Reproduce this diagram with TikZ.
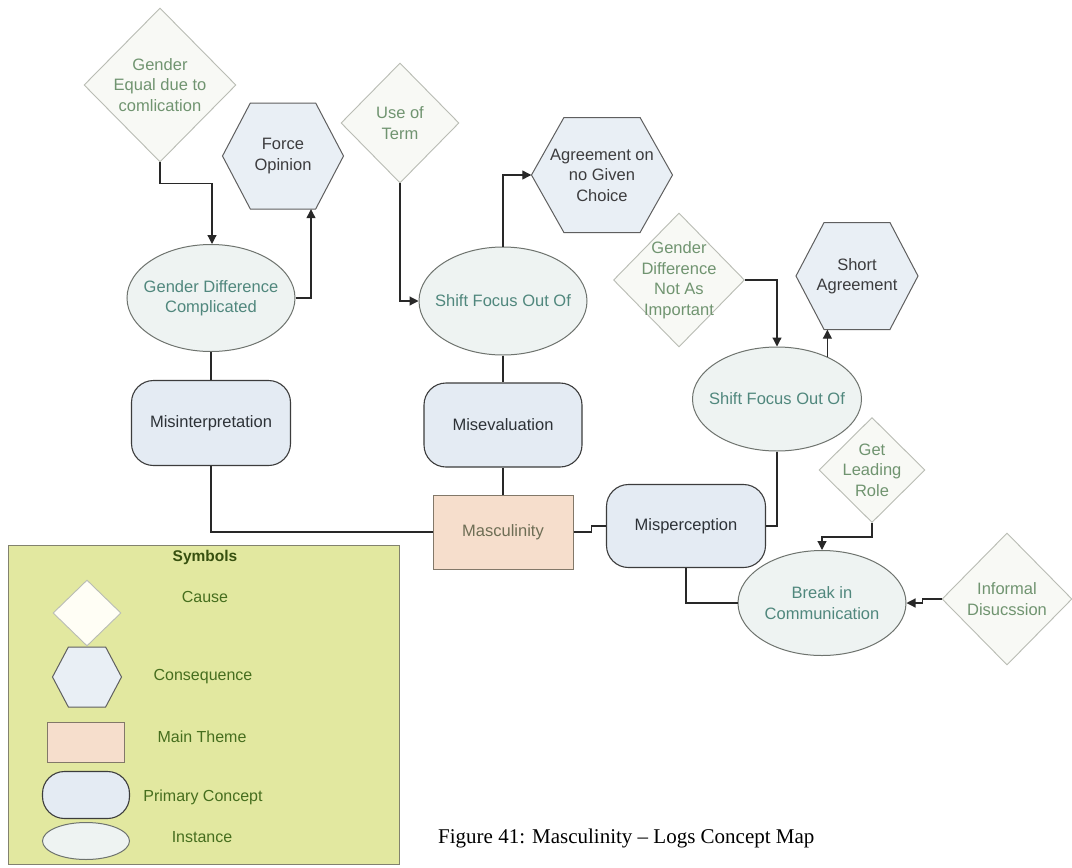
\documentclass[tikz,border=0pt]{standalone}
\usepackage{fontspec}
\setmainfont{Liberation Serif}
\setsansfont{Liberation Sans}
\usetikzlibrary{shapes.geometric,arrows.meta,calc}
\definecolor{diaedge}{RGB}{185,188,180}
\definecolor{diafill}{RGB}{248,249,245}
\definecolor{ctext}{RGB}{112,148,112}
\definecolor{hexedge}{RGB}{95,95,95}
\definecolor{hexfill}{RGB}{233,239,245}
\definecolor{htext}{RGB}{60,60,62}
\definecolor{elledge}{RGB}{110,115,110}
\definecolor{ellfill}{RGB}{238,243,242}
\definecolor{etext}{RGB}{80,135,125}
\definecolor{primedge}{RGB}{60,60,60}
\definecolor{primfill}{RGB}{228,235,243}
\definecolor{ptext}{RGB}{45,50,55}
\definecolor{themeedge}{RGB}{130,120,105}
\definecolor{themefill}{RGB}{246,222,204}
\definecolor{thtext}{RGB}{110,110,85}
\definecolor{legfill}{RGB}{226,232,160}
\definecolor{legedge}{RGB}{130,130,110}
\definecolor{legtext}{RGB}{70,110,30}
\definecolor{symtext}{RGB}{55,80,15}
\definecolor{linkc}{RGB}{40,40,40}
\tikzset{
  base/.style={font=\sffamily\fontsize{16.5}{20.5}\selectfont, align=center, inner sep=0pt},
  cause/.style={diamond, aspect=1, inner sep=0pt, draw=diaedge, fill=diafill, line width=0.9pt},
  ctxt/.style={base, text=ctext},
  hexpath/.style={draw=hexedge, fill=hexfill, line width=1pt},
  instance/.style={ellipse, inner sep=0pt, draw=elledge, fill=ellfill, line width=1pt},
  etxt/.style={base, text=etext},
  primary/.style={base, rectangle, rounded corners=22pt, draw=primedge, fill=primfill, text=ptext, line width=1.1pt},
  theme/.style={base, rectangle, draw=themeedge, fill=themefill, text=thtext, line width=1pt},
  link/.style={draw=linkc, line width=1.2pt},
  arr/.style={link, -{Triangle[length=9pt,width=9pt]}},
  legtxt/.style={font=\sffamily\fontsize{16}{19}\selectfont, text=legtext, inner sep=0pt},
}
% hexagon: name, x, y, w, h, text
\newcommand\hexnode[6]{%
  \path[hexpath] ({#2-#4/2},#3) -- ({#2-0.27*#4},{#3-#5/2}) -- ({#2+0.27*#4},{#3-#5/2})
    -- ({#2+#4/2},#3) -- ({#2+0.27*#4},{#3+#5/2}) -- ({#2-0.27*#4},{#3+#5/2}) -- cycle;
  \node[base, text=htext, minimum width=#4pt, minimum height=#5pt] (#1) at (#2,#3) {#6};}
\begin{document}
\begin{tikzpicture}[x=1pt,y=-1pt]
\useasboundingbox[fill=white] (0,0) rectangle (1072,868);

% causes
\node[cause, minimum width=152pt, minimum height=154pt] (ge) at (160,85) {};
\node[ctxt] (ge-t) at (ge) {Gender\\Equal due to\\comlication};
\node[cause, minimum width=118pt, minimum height=120pt] (ut) at (400,123) {};
\node[ctxt] (ut-t) at (ut) {Use of\\Term};
\node[cause, minimum width=131pt, minimum height=134pt] (gd) at (679,280) {};
\node[ctxt] (gd-t) at (gd) {Gender\\Difference\\Not As\\Important};
\node[cause, minimum width=106pt, minimum height=105pt] (glr) at (872,470) {};
\node[ctxt] (glr-t) at (glr) {Get\\Leading\\Role};
\node[cause, minimum width=130pt, minimum height=132pt] (id) at (1007,599) {};
\node[ctxt] (id-t) at (id) {Informal\\Disucssion};

% consequences
\hexnode{fo}{283}{156}{121}{106}{Force\\Opinion}
\hexnode{ag}{602}{175}{141}{115}{Agreement on\\no Given\\Choice}
\hexnode{sa}{857}{276}{122}{107}{Short\\Agreement}

% instances
\node[instance, minimum width=168pt, minimum height=107pt] (gdc) at (211,298) {};
\node[etxt] (gdc-t) at (gdc) {Gender Difference\\Complicated};
\node[instance, minimum width=168pt, minimum height=108pt] (sf1) at (503,301) {};
\node[etxt] (sf1-t) at (sf1) {Shift Focus Out Of};
\node[instance, minimum width=169pt, minimum height=104pt] (sf2) at (777,399) {};
\node[etxt] (sf2-t) at (sf2) {Shift Focus Out Of};
\node[instance, minimum width=168pt, minimum height=105pt] (bc) at (822,603) {};
\node[etxt] (bc-t) at (bc) {Break in\\Communication};

% primary concepts
\node[primary, minimum width=159pt, minimum height=85pt] (mi) at (211,423) {Misinterpretation};
\node[primary, minimum width=158pt, minimum height=84pt] (me) at (503,425) {Misevaluation};
\node[primary, minimum width=159pt, minimum height=83pt] (mp) at (686,526) {Misperception};

% main theme
\node[theme, minimum width=140pt, minimum height=74pt] (ma) at (503,532) {Masculinity};

% connectors
\draw[arr] (ge.south) -- ++(0,21) -| ([xshift=1pt]gdc.north);
\draw[arr] (gdc.east) -| ([xshift=28pt]fo.south);
\draw[arr] (ut.south) |- (sf1.west);
\draw[arr] (sf1.north) |- (ag.west);
\draw[link] (gdc.south) -- (mi.north);
\draw[link] (sf1.south) -- (me.north);
\draw[link] (me.south) -- (ma.north);
\draw[link] (mi.south) |- (ma.west);
\draw[link] (ma.east) -- ++(18,0) |- (mp.west);
\draw[link] (sf2.south) |- (mp.east);
\draw[arr] (gd.east) -| (sf2.north);
\draw[arr] (sf2.40) -- (sf2.40 |- sa.south);
\draw[arr] (glr.south) -- ++(0,14) -| (bc.north);
\draw[link] (mp.south) |- (bc.west);
\draw[arr] (id.west) -- ++(-19,0) |- (bc.east);

% legend
\node[draw=legedge, fill=legfill, line width=1pt, minimum width=391pt, minimum height=319pt, inner sep=0pt] (leg) at (203.5,704.5) {};
\node[font=\sffamily\bfseries\fontsize{15.5}{19}\selectfont, text=symtext] (sym) at (205,557) {Symbols};
\node[cause, fill=white!96!yellow, minimum width=68pt, minimum height=66pt] (lc) at (87,613) {};
\node[legtxt] (lc-t) at (205,597) {Cause};
\hexnode{lh}{87}{677}{69}{60}{}
\node[legtxt] (lh-t) at (203,677) {Consequence};
\node[theme, minimum width=77pt, minimum height=40pt] (lt) at (86,742) {};
\node[legtxt] (lt-t) at (202,737) {Main Theme};
\node[primary, rounded corners=22pt, minimum width=87pt, minimum height=47pt] (lp) at (86,795) {};
\node[legtxt] (lp-t) at (203,797) {Primary Concept};
\node[instance, minimum width=87pt, minimum height=37pt] (li) at (86,841) {};
\node[legtxt] (li-t) at (202,837) {Instance};

% caption
\node[font=\rmfamily\fontsize{21}{25}\selectfont, anchor=west, inner sep=0pt] (cap) at (438,838) {Figure 41: Masculinity – Logs Concept Map};
\end{tikzpicture}
\end{document}
